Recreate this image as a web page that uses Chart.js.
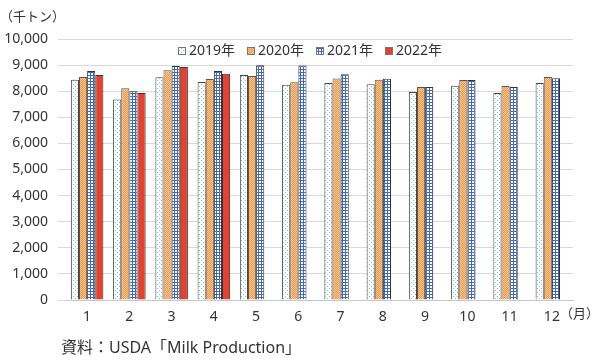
<!DOCTYPE html>
<html>
<head>
<meta charset="utf-8">
<script src="https://cdn.jsdelivr.net/npm/chart.js@4"></script>
<style>
  body { margin: 0; background: #fff; }
  #wrap { width: 599px; height: 362px; position: relative; }
</style>
</head>
<body>
<div id="wrap"><canvas id="milkChart" width="599" height="362"></canvas></div>
<script>
// Data (thousand tons)
const months = ['1', '2', '3', '4', '5', '6', '7', '8', '9', '10', '11', '12'];
const seriesLabels = ['2019年', '2020年', '2021年', '2022年'];
const y2019 = [8440, 7680, 8530, 8350, 8620, 8250, 8310, 8270, 7970, 8210, 7930, 8310];
const y2020 = [8540, 8110, 8800, 8470, 8580, 8340, 8490, 8440, 8160, 8430, 8200, 8540];
const y2021 = [8770, 8000, 8970, 8770, 8990, 8980, 8650, 8480, 8160, 8430, 8160, 8500];
const y2022 = [8620, 7930, 8930, 8670, null, null, null, null, null, null, null, null];
const yTicks = [0, 1000, 2000, 3000, 4000, 5000, 6000, 7000, 8000, 9000, 10000];

const FONT = "'Noto Sans', 'Noto Sans CJK JP', sans-serif";

// fill patterns
function makePattern(size, draw) {
    const c = document.createElement('canvas');
    c.width = size;
    c.height = size;
    draw(c.getContext('2d'));
    return c.getContext('2d').createPattern(c, 'repeat');
}

const dotPattern = makePattern(4, g => {
    g.fillStyle = '#ffffff';
    g.fillRect(0, 0, 4, 4);
    g.fillStyle = '#6fc2c0';
    g.fillRect(1, 0, 1, 1);
    g.fillRect(3, 2, 1, 1);
});

const orangePattern = makePattern(2, g => {
    g.fillStyle = '#f29a45';
    g.fillRect(0, 0, 2, 2);
    g.fillStyle = '#fac48c';
    g.fillRect(0, 0, 1, 1);
    g.fillRect(1, 1, 1, 1);
});

const gridPattern = makePattern(3, g => {
    g.fillStyle = '#ffffff';
    g.fillRect(0, 0, 3, 3);
    g.fillStyle = '#3f66c0';
    g.fillRect(0, 0, 3, 1);
    g.fillRect(0, 0, 1, 3);
});

const fills = [dotPattern, orangePattern, gridPattern, '#e8402b'];
const borders = ['#444444', '#555555', '#333333', '#333333'];
const values = [y2019, y2020, y2021, y2022];

// legend inside the plot + extra captions
const captions = {
    id: 'captions',
    afterDraw(chart) {
        const ctx = chart.ctx;
        ctx.save();
        ctx.fillStyle = '#333';
        ctx.textBaseline = 'middle';
        ctx.font = '13px ' + FONT;
        ctx.fillText('（千トン）', 0, 17);
        ctx.fillText('（月）', 560, 314);
        ctx.font = '16px ' + FONT;
        ctx.fillText('資料：USDA「Milk Production」', 61, 348);

        // legend
        ctx.font = '14px ' + FONT;
        let x = 178;
        chart.data.datasets.forEach(ds => {
            ctx.fillStyle = ds.backgroundColor;
            ctx.fillRect(x, 47, 8, 8);
            ctx.strokeStyle = '#777';
            ctx.lineWidth = 1;
            ctx.strokeRect(x + 0.5, 47.5, 7, 7);
            ctx.fillStyle = '#333';
            ctx.fillText(ds.label, x + 11, 51);
            x += 69;
        });
        ctx.restore();
    }
};

new Chart(document.getElementById('milkChart'), {
    type: 'bar',
    data: {
        labels: months,
        datasets: seriesLabels.map((label, i) => ({
            label: label,
            data: values[i],
            backgroundColor: fills[i],
            borderColor: borders[i],
            borderWidth: 1,
            barPercentage: 1.0,
            categoryPercentage: 0.77
        }))
    },
    options: {
        responsive: false,
        animation: false,
        devicePixelRatio: 1,
        layout: { padding: { top: 39, right: 26, left: 0, bottom: 0 } },
        plugins: {
            legend: { display: false },
            tooltip: { enabled: false }
        },
        scales: {
            x: {
                grid: { display: false },
                border: { color: '#c8c8c8' },
                ticks: { color: '#333', font: { family: FONT, size: 14 }, padding: 1, maxRotation: 0, autoSkip: false },
                afterFit: s => { s.height = 62; }
            },
            y: {
                min: 0,
                max: 10000,
                afterBuildTicks: s => { s.ticks = yTicks.map(v => ({ value: v })); },
                grid: { color: '#d9d9d9' },
                border: { display: false },
                ticks: {
                    color: '#333',
                    font: { family: FONT, size: 14 },
                    padding: 10,
                    autoSkip: false,
                    callback: v => v.toLocaleString('en-US')
                },
                afterFit: s => { s.width = 66; }
            }
        }
    },
    plugins: [captions]
});
</script>
</body>
</html>
